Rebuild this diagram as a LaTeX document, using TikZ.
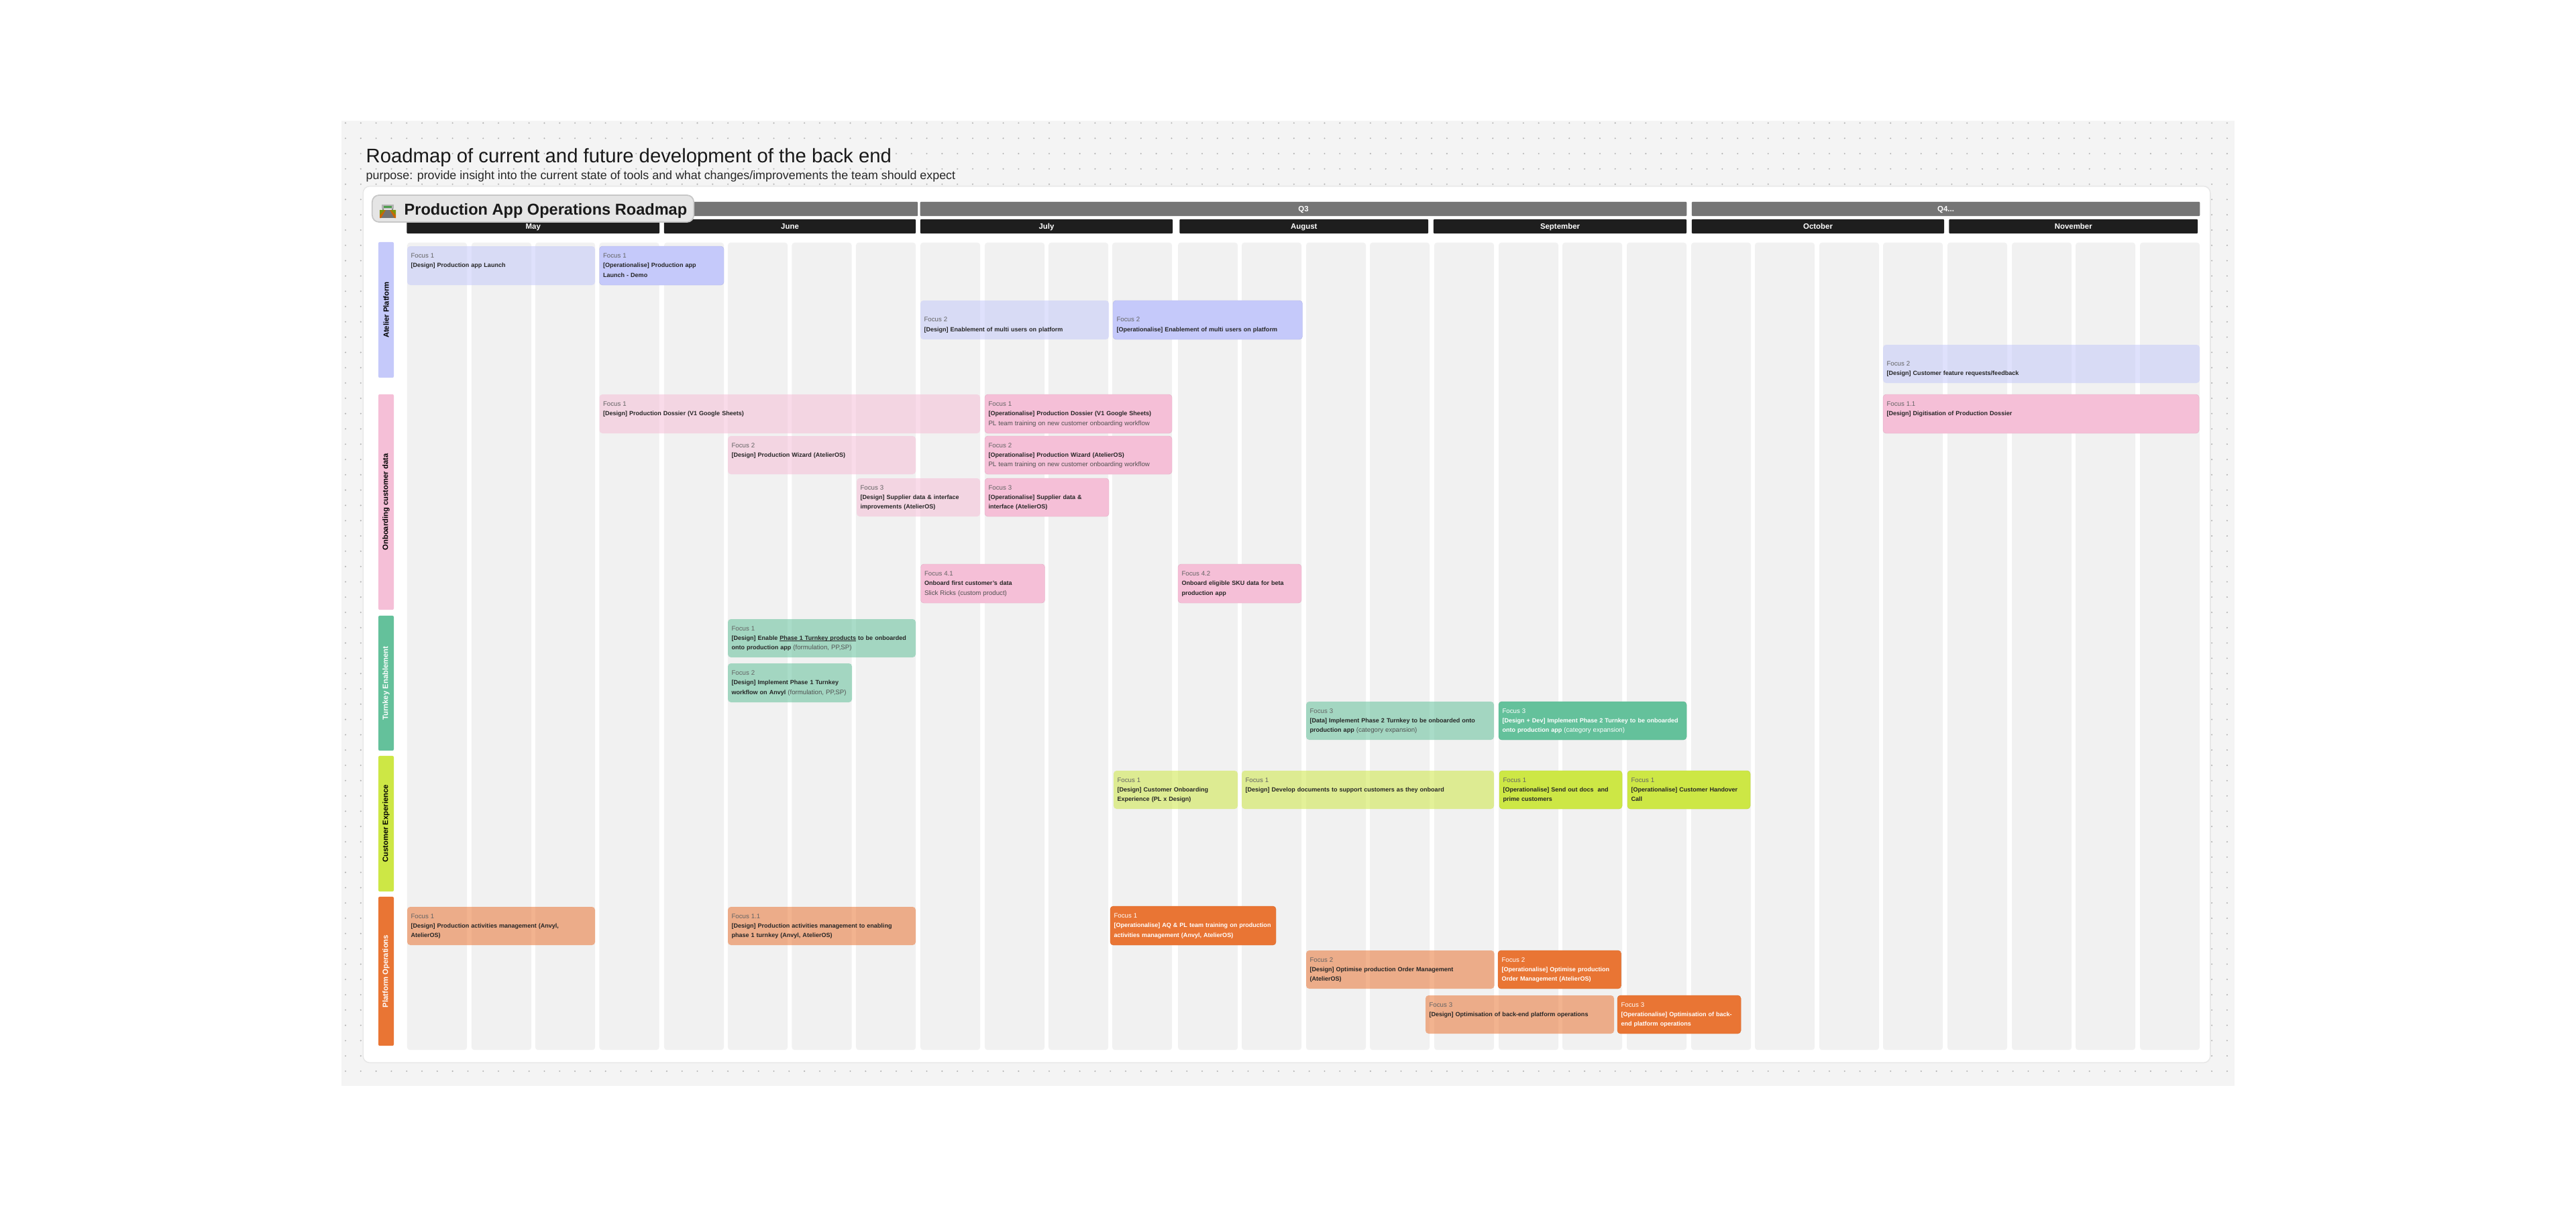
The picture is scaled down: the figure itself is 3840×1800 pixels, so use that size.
\documentclass[tikz,border=0pt]{standalone}
\usepackage{xcolor}
\usepackage{fontspec}
\setmainfont{Liberation Sans}
\definecolor{BoardGray}{HTML}{F4F4F4}
\definecolor{EdgeGray}{HTML}{E6E6E6}
\definecolor{DotGray}{HTML}{B4B4B4}
\definecolor{ColGray}{HTML}{F1F1F1}
\definecolor{QuarterGray}{HTML}{757575}
\definecolor{MonthBlack}{HTML}{1E1E1E}
\definecolor{ChipGray}{HTML}{E5E5E5}
\definecolor{InkDark}{HTML}{262626}
\definecolor{PlatformBlue}{HTML}{C5C9FA}
\definecolor{OnboardPink}{HTML}{F5BFD7}
\definecolor{TurnkeyGreen}{HTML}{64C19B}
\definecolor{ExperienceLime}{HTML}{CDE745}
\definecolor{OperationsOrange}{HTML}{E97534}
\usepackage{tikz}
\usetikzlibrary{positioning}
\newcommand{\card}[9]{\node[#1,minimum width={(#5-#3)*0.01cm},minimum height={(#6-#4)*0.01cm},text width={(#5-#3-11)*0.01cm}] (#2) at ({(#3+#5)/2},{(#4+#6)/2}) {\strut#7\\\strut#8\\\strut#9};}
\newcommand{\fc}[1]{{\fontsize{2.75}{4.05}\selectfont\mdseries\color{.!72}#1}}
\newcommand{\rg}[1]{{\fontsize{2.75}{4.05}\selectfont\mdseries\color{.!80}#1}}
\newcommand{\ulin}[1]{{\setbox0\hbox{#1}\rlap{\rule[-0.4pt]{\wd0}{0.15pt}}\box0}}
\begin{document}
\begin{tikzpicture}[x=0.01cm,y=-0.01cm,
col/.style={fill=ColGray,rounded corners=0.04cm,minimum width=0.89cm,minimum height=12.03cm,inner sep=0pt},
quarter/.style={fill=QuarterGray,text=white,font=\fontsize{3.25}{4}\selectfont\bfseries,minimum height=0.21cm,text height=2.35pt,text depth=0pt,inner sep=0pt,rounded corners=0.01cm},
month/.style={fill=MonthBlack,text=white,font=\fontsize{3.25}{4}\selectfont\bfseries,minimum height=0.21cm,text height=2.35pt,text depth=0pt,inner sep=0pt,rounded corners=0.01cm},
lane/.style={rounded corners=0.02cm,minimum width=0.23cm,inner sep=0pt},
lanetext/.style={rotate=90,inner sep=0pt,font=\fontsize{3.2}{4}\selectfont\bfseries},
card/.style={rounded corners=0.045cm,inner xsep=0.055cm,inner ysep=0pt,align=left,text=InkDark,font=\fontsize{2.57}{4.05}\selectfont\bfseries},
soft/.style={card,fill=#1,fill opacity=.55,text opacity=1},
solid/.style={card,fill=#1,draw=#1!92!black,line width=0.12pt},
dark/.style={solid=#1,text=white}]
\fill[white] (0,0) rectangle (3840,1800);
\useasboundingbox (0,0) rectangle (3840,1800);
\fill[BoardGray] (509,180) rectangle (3331,1619);
\foreach \j in {0,...,62}
\draw[DotGray,line width=0.66pt,line cap=round,dash pattern=on 0pt off 0.2279cm] (515,{183.4+\j*22.8}) -- (3330,{183.4+\j*22.8});
\node[fill=white,draw=EdgeGray,line width=0.4pt,rounded corners=0.1cm,minimum width=27.52cm,minimum height=13.06cm,inner sep=0pt] (board) at (1918,931) {};
\node[anchor=base west,inner sep=0pt,font=\fontsize{8.33}{10}\selectfont,text=black!90] (title) at (545,242) {Roadmap of current and future development of the back end};
\node[anchor=base west,inner sep=0pt,font=\fontsize{5.08}{6}\selectfont,text=black!85] (purpose) at (545,268) {purpose: provide insight into the current state of tools and what changes/improvements the team should expect};
\foreach \cx [count=\ci] in {607,703,798,893.5,990,1085,1180.5,1276,1372,1468,1563,1658,1756,1851,1947,2042,2138,2234,2329,2425,2521,2616,2712,2807,2903,2999,3094,3190}
\node[col] (col\ci) at ({\cx+44.5},963.5) {};
\node[quarter,minimum width=7.61cm] (qtwo) at (987.5,311.5) {};
\node[quarter,minimum width=11.42cm] (qthree) at (1943,311.5) {Q3};
\node[quarter,minimum width=7.57cm] (qfour) at (2900.5,311.5) {Q4...};
\node[month,minimum width=3.765cm] (may) at (794.75,337.5) {May};
\node[month,minimum width=3.75cm] (june) at (1177.5,337.5) {June};
\node[month,minimum width=3.76cm] (july) at (1560,337.5) {July};
\node[month,minimum width=3.705cm] (august) at (1943.75,337.5) {August};
\node[month,minimum width=3.77cm] (september) at (2325.5,337.5) {September};
\node[month,minimum width=3.76cm] (october) at (2710,337.5) {October};
\node[month,minimum width=3.705cm] (november) at (3090.75,337.5) {November};
\node[fill=ChipGray,draw=black!22,line width=0.5pt,rounded corners=0.1cm,minimum width=4.79cm,minimum height=0.4cm,inner sep=0pt] (chip) at (794.5,311) {};
\node[anchor=base west,inner sep=0pt,font=\fontsize{6.7}{8}\selectfont\bfseries,text=black!90] (chiptext) at (602,320) {Production App Operations Roadmap};
\fill[black!30] (569,305) rectangle (587,311);
\fill[green!45!black!70] (572,306.5) rectangle (584,309.5);
\fill[black!45] (570,311) rectangle (572,313) (584,311) rectangle (586,313);
\fill[black!55] (566,313) rectangle (590,325);
\fill[olive!75!green] (566,313) -- (574,313) -- (566,321) -- cycle;
\fill[olive!75!green] (590,313) -- (582,313) -- (590,321) -- cycle;
\fill[orange!80!black] (566,321) -- (574,313) -- (575,313) -- (568,325) -- (566,325) -- cycle;
\fill[orange!80!black] (590,321) -- (582,313) -- (581,313) -- (588,325) -- (590,325) -- cycle;
\node[lane,fill=PlatformBlue,minimum height=2.02cm] (platform) at (575.5,462) {};
\node[lane,fill=OnboardPink,minimum height=3.21cm] (onboarding) at (575.5,748.5) {};
\node[lane,fill=TurnkeyGreen,minimum height=2.01cm] (turnkey) at (575.5,1018.5) {};
\node[lane,fill=ExperienceLime,minimum height=2.02cm] (experience) at (575.5,1228) {};
\node[lane,fill=OperationsOrange,minimum height=2.22cm] (operations) at (575.5,1448) {};
\node[lanetext,text=black] (platformtext) at (platform) {Atelier Platform};
\node[lanetext,text=black] (onboardingtext) at (onboarding) {Onboarding customer data};
\node[lanetext,text=white] (turnkeytext) at (turnkey) {Turnkey Enablement};
\node[lanetext,text=black] (experiencetext) at (experience) {Customer Experience};
\node[lanetext,text=white] (operationstext) at (operations) {Platform Operations};
\card{soft=PlatformBlue}{launch}{607}{367}{887}{425}{\fc{Focus 1}}{[Design] Production app Launch}{}
\card{solid=PlatformBlue}{launchops}{893.5}{367}{1079}{425}{\fc{Focus 1}}{[Operationalise] Production app}{Launch - Demo}
\card{soft=PlatformBlue}{multiuser}{1372}{448}{1653}{506}{}{\fc{Focus 2}}{[Design] Enablement of multi users on platform}
\card{solid=PlatformBlue}{multiuserops}{1659}{448}{1941.5}{506}{}{\fc{Focus 2}}{[Operationalise] Enablement of multi users on platform}
\card{soft=PlatformBlue}{feedback}{2807}{514}{3279}{571}{}{\fc{Focus 2}}{[Design] Customer feature requests/feedback}
\card{soft=OnboardPink}{dossier}{893.5}{588}{1461}{646}{\fc{Focus 1}}{[Design] Production Dossier (V1 Google Sheets)}{}
\card{solid=OnboardPink}{dossierops}{1468}{588}{1747}{646}{\fc{Focus 1}}{[Operationalise] Production Dossier (V1 Google Sheets)}{\rg{PL team training on new customer onboarding workflow}}
\card{solid=OnboardPink}{digitise}{2807}{588}{3278}{646}{\fc{Focus 1.1}}{[Design] Digitisation of Production Dossier}{}
\card{soft=OnboardPink}{wizard}{1085}{650}{1365}{707}{\fc{Focus 2}}{[Design] Production Wizard (AtelierOS)}{}
\card{solid=OnboardPink}{wizardops}{1468}{650}{1747}{707}{\fc{Focus 2}}{[Operationalise] Production Wizard (AtelierOS)}{\rg{PL team training on new customer onboarding workflow}}
\card{soft=OnboardPink}{supplier}{1277}{713}{1461}{770}{\fc{Focus 3}}{[Design] Supplier data \& interface}{improvements (AtelierOS)}
\card{solid=OnboardPink}{supplierops}{1468}{713}{1653}{770}{\fc{Focus 3}}{[Operationalise] Supplier data \&}{interface (AtelierOS)}
\card{solid=OnboardPink}{firstdata}{1372.5}{841}{1557.5}{899}{\fc{Focus 4.1}}{Onboard first customer's data}{\rg{Slick Ricks (custom product)}}
\card{solid=OnboardPink}{skudata}{1756}{841}{1940}{899}{\fc{Focus 4.2}}{Onboard eligible SKU data for beta}{production app}
\card{soft=TurnkeyGreen}{phaseone}{1085}{923}{1365}{980}{\fc{Focus 1}}{[Design] Enable \ulin{Phase 1 Turnkey products} to be onboarded}{onto production app \rg{(formulation, PP,SP)}}
\card{soft=TurnkeyGreen}{phaseonewf}{1085}{989}{1270}{1047}{\fc{Focus 2}}{[Design] Implement Phase 1 Turnkey}{workflow on Anvyl \rg{(formulation, PP,SP)}}
\card{soft=TurnkeyGreen}{phasetwo}{1947}{1046}{2227}{1103}{\fc{Focus 3}}{[Data] Implement Phase 2 Turnkey to be onboarded onto}{production app \rg{(category expansion)}}
\card{dark=TurnkeyGreen}{phasetwodev}{2234}{1046}{2514}{1103}{\fc{Focus 3}}{[Design + Dev] Implement Phase 2 Turnkey to be onboarded}{onto production app \rg{(category expansion)}}
\card{soft=ExperienceLime}{cxonboard}{1660}{1149}{1845}{1206}{\fc{Focus 1}}{[Design] Customer Onboarding}{Experience (PL x Design)}
\card{soft=ExperienceLime}{cxdocs}{1851}{1149}{2227}{1206}{\fc{Focus 1}}{[Design] Develop documents to support customers as they onboard}{}
\card{solid=ExperienceLime}{cxprime}{2235}{1149}{2418}{1206}{\fc{Focus 1}}{[Operationalise] Send out docs\ \ and}{prime customers}
\card{solid=ExperienceLime}{cxcall}{2426}{1149}{2609}{1206}{\fc{Focus 1}}{[Operationalise] Customer Handover}{Call}
\card{soft=OperationsOrange}{activities}{607}{1352}{887}{1409}{\fc{Focus 1}}{[Design] Production activities management (Anvyl,}{AtelierOS)}
\card{soft=OperationsOrange}{enabling}{1085}{1352}{1365}{1409}{\fc{Focus 1.1}}{[Design] Production activities management to enabling}{phase 1 turnkey (Anvyl, AtelierOS)}
\card{dark=OperationsOrange}{training}{1655}{1351}{1902}{1409}{\fc{Focus 1}}{[Operationalise] AQ \& PL team training on production}{activities management (Anvyl, AtelierOS)}
\card{soft=OperationsOrange}{order}{1947}{1417}{2227.5}{1474}{\fc{Focus 2}}{[Design] Optimise production Order Management}{(AtelierOS)}
\card{dark=OperationsOrange}{orderops}{2233}{1417}{2416.5}{1474}{\fc{Focus 2}}{[Operationalise] Optimise production}{Order Management (AtelierOS)}
\card{soft=OperationsOrange}{backend}{2125}{1484}{2406}{1541}{\fc{Focus 3}}{[Design] Optimisation of back-end platform operations}{}
\card{dark=OperationsOrange}{backendops}{2411}{1484}{2595}{1541}{\fc{Focus 3}}{[Operationalise] Optimisation of back-}{end platform operations}
\end{tikzpicture}
\end{document}
